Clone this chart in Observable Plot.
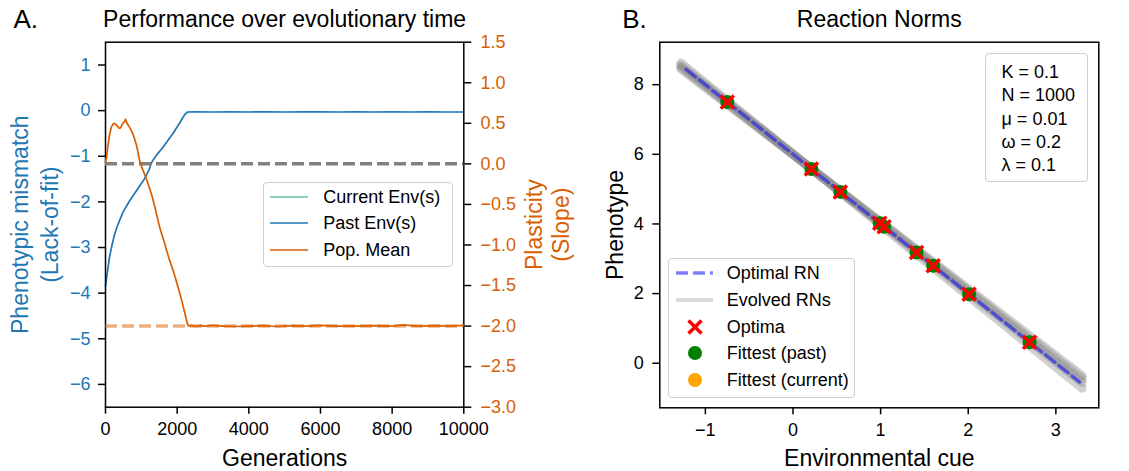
<!DOCTYPE html>
<html><head><meta charset="utf-8">
<script src="https://cdn.jsdelivr.net/npm/d3@7"></script>
<script src="https://cdn.jsdelivr.net/npm/@observablehq/plot@0.6"></script>
<style>
html,body{margin:0;padding:0;background:#fff;}
#root{position:relative;width:1129px;height:471px;overflow:hidden;font-family:"Liberation Sans",Arial,sans-serif;background:#fff;}
#root svg.panel{position:absolute;top:0;}
.box{position:absolute;background:rgba(255,255,255,0.8);border:1.3px solid #cfcfcf;border-radius:4px;box-sizing:border-box;font-size:18px;color:#000;}
.row{position:absolute;left:0;height:26px;line-height:26px;white-space:nowrap;}
.row svg{position:absolute;top:0;}
.row span{position:absolute;}
</style></head><body><div id="root"></div>
<script>
// ---------- Panel A data ----------
const pastGen = [0, 50, 112, 180, 252, 320, 392, 480, 579, 670, 764, 860, 952, 1045, 1139, 1230, 1279, 1330, 1420, 1511, 1600, 1700, 1791, 1884, 1980, 2071, 2160, 2230, 2290, 2500, 3000, 3500, 4000, 4500, 5000, 5500, 6000, 6500, 7000, 7500, 8000, 8500, 9000, 9500, 10000];
const pastMismatch = [-3.85, -3.55, -3.21, -2.95, -2.72, -2.55, -2.41, -2.24, -2.10, -1.98, -1.87, -1.76, -1.65, -1.55, -1.42, -1.27, -1.15, -1.08, -0.98, -0.89, -0.81, -0.70, -0.60, -0.50, -0.38, -0.27, -0.15, -0.07, -0.03, -0.025, -0.03, -0.028, -0.03, -0.027, -0.03, -0.029, -0.026, -0.03, -0.028, -0.03, -0.027, -0.03, -0.029, -0.03, -0.03];
const meanGen = [0, 30, 64, 110, 160, 210, 252, 300, 344, 380, 411, 450, 484, 530, 560, 600, 672, 720, 764, 810, 859, 900, 952, 1020, 1092, 1160, 1231, 1300, 1371, 1440, 1511, 1580, 1651, 1720, 1791, 1884, 1960, 2030, 2100, 2164, 2230, 2276, 2320, 2400, 2500, 2650, 2800, 3000, 3300, 3600, 4000, 4400, 4800, 5200, 5600, 6000, 6500, 7000, 7500, 8000, 8300, 8700, 9200, 9600, 10000];
const meanSlope = [0.02, 0.08, 0.21, 0.35, 0.45, 0.49, 0.50, 0.48, 0.46, 0.44, 0.44, 0.47, 0.50, 0.52, 0.55, 0.50, 0.45, 0.41, 0.37, 0.31, 0.24, 0.16, 0.04, -0.05, -0.13, -0.21, -0.30, -0.40, -0.52, -0.65, -0.78, -0.88, -0.98, -1.09, -1.19, -1.31, -1.42, -1.53, -1.64, -1.75, -1.87, -1.96, -2.00, -1.99, -2.005, -1.995, -2.0, -1.99, -2.0, -2.005, -2.0, -1.995, -2.005, -1.995, -2.0, -1.99, -2.0, -2.0, -1.995, -2.0, -1.985, -2.0, -1.995, -2.0, -1.99];
const genTicks = [0, 2000, 4000, 6000, 8000, 10000];
const mismatchTicks = [-6, -5, -4, -3, -2, -1, 0, 1];
const slopeTicks = [-3.0, -2.5, -2.0, -1.5, -1.0, -0.5, 0.0, 0.5, 1.0, 1.5];
const noPlasticity = [0.0];
const optimalSlope = [-2.0];
const legendA = ["Current Env(s)", "Past Env(s)", "Pop. Mean"];

// ---------- Panel B data ----------
const optimaCue = [-0.75, 0.21, 0.54, 0.99, 1.04, 1.41, 1.60, 2.01, 2.70];
const optimaPheno = [7.50, 5.58, 4.92, 4.02, 3.92, 3.18, 2.80, 1.98, 0.60];
const fittestCue = [-0.75, 0.21, 0.54, 0.99, 1.04, 1.41, 1.60, 2.01, 2.70];
const fittestPheno = [7.50, 5.58, 4.92, 4.02, 3.92, 3.18, 2.80, 1.98, 0.60];
const optimalRNCue = [-1.22, 3.27];
const optimalRNPheno = [8.44, -0.54];
const evolvedRNCue = [-1.28, 3.30];
const evolvedRNStart = [8.45, 8.62, 8.55, 8.50];
const evolvedRNEnd = [-0.36, -0.72, -0.55, -0.45];
const cueTicks = [-1, 0, 1, 2, 3];
const phenoTicks = [0, 2, 4, 6, 8];
const paramLines = ["K = 0.1", "N = 1000", "μ = 0.01", "ω = 0.2", "λ = 0.1"];
const legendB = ["Optimal RN", "Evolved RNs", "Optima", "Fittest (past)", "Fittest (current)"];

// ---------- styling ----------
const FONT = '"Liberation Sans", Arial, Helvetica, sans-serif';
const BLUE = "#1f77b4", ORANGE = "#d95f02", TEAL = "#66c2a5";
const TICK = 18, LAB = 23;
const baseStyle = {fontFamily: FONT, fontSize: TICK + "px", background: "transparent", overflow: "visible"};
const root = document.getElementById("root");
function place(svg, left) { svg.classList.add("panel"); svg.style.left = left + "px"; svg.style.position = "absolute"; svg.style.top = "0px"; root.appendChild(svg); }
const T = (o) => ({text: d => d, lineAnchor: "middle", textAnchor: "middle", fill: "black", ...o});

// ---------- Panel A ----------
const wA = 600, hA = 471;
const mA = {marginLeft: 105, marginRight: wA - 463.3, marginTop: 41.7, marginBottom: hA - 406.7};
const pastRows = pastGen.map((g, i) => ({gen: g, v: pastMismatch[i]}));
const meanRows = meanGen.map((g, i) => ({gen: g, s: meanSlope[i]}));

const baseA = Plot.plot({
  width: wA, height: hA, ...mA, style: baseStyle,
  x: {domain: [0, 10000], axis: null},
  y: {domain: [-6.5, 1.5], axis: null},
  marks: [
    Plot.line(pastRows, {x: "gen", y: "v", stroke: BLUE, strokeWidth: 1.7}),
    Plot.frame({stroke: "black", strokeWidth: 1.5}),
    Plot.axisX({ticks: genTicks, tickSize: 7, tickPadding: 8, tickFormat: d3.format("d"), label: null, stroke: "black", fill: "black", strokeWidth: 1.5}),
    Plot.axisY({ticks: mismatchTicks, tickSize: 7, tickPadding: 8, tickFormat: d3.format("d"), label: null, stroke: "black", fill: BLUE, strokeWidth: 1.5}),
    Plot.text(["Generations"], T({frameAnchor: "bottom", dy: 51.3, fontSize: LAB})),
    Plot.text(["Performance over evolutionary time"], T({frameAnchor: "top", dy: -22.2, fontSize: LAB})),
    Plot.text(["A."], T({frameAnchor: "top-left", dx: -92, dy: -22.7, fontSize: 26, textAnchor: "start"})),
    Plot.text(["Phenotypic mismatch\n(Lack-of-fit)"], T({frameAnchor: "left", dx: -71.8, rotate: -90, fontSize: LAB, fill: BLUE, lineHeight: 1.3}))
  ]
});
place(baseA, 0);

const overA = Plot.plot({
  width: wA, height: hA, ...mA, style: baseStyle,
  x: {domain: [0, 10000], axis: null},
  y: {domain: [-3, 1.5], axis: null},
  marks: [
    Plot.ruleY(noPlasticity, {stroke: "#808080", strokeWidth: 3.5, strokeDasharray: "12,5"}),
    Plot.ruleY(optimalSlope, {stroke: ORANGE, strokeOpacity: 0.5, strokeWidth: 3.5, strokeDasharray: "12,5"}),
    Plot.line(meanRows, {x: "gen", y: "s", stroke: ORANGE, strokeWidth: 1.7}),
    Plot.axisY({anchor: "right", ticks: slopeTicks, tickFormat: d3.format(".1f"), tickSize: 7, tickPadding: 9.7, label: null, stroke: "black", fill: ORANGE, strokeWidth: 1.5}),
    Plot.text(["Plasticity\n(Slope)"], T({frameAnchor: "right", dx: 82.7, rotate: -90, fontSize: LAB, fill: ORANGE, lineHeight: 1.2}))
  ]
});
place(overA, 0);

// ---------- Panel B ----------
const wB = 549, hB = 471;
const evolvedRows = [];
evolvedRNStart.forEach((s, i) => {
  evolvedRows.push({rn: i, x: evolvedRNCue[0], y: s});
  evolvedRows.push({rn: i, x: evolvedRNCue[1], y: evolvedRNEnd[i]});
});
const optRows = optimalRNCue.map((c, i) => ({x: c, y: optimalRNPheno[i]}));
const fitRows = fittestCue.map((c, i) => ({x: c, y: fittestPheno[i]}));
const optimaRows = optimaCue.map((c, i) => ({x: c, y: optimaPheno[i]}));

const panelB = Plot.plot({
  width: wB, height: hB, marginLeft: 79.3, marginRight: 30.7, marginTop: 41.7, marginBottom: 63.7, style: baseStyle,
  x: {domain: [-1.52, 3.49], axis: null},
  y: {domain: [-1.28, 9.22], axis: null},
  marks: [
    Plot.line(evolvedRows, {x: "x", y: "y", z: "rn", stroke: "gray", strokeOpacity: 0.36, strokeWidth: 9}),
    Plot.line(optRows, {x: "x", y: "y", stroke: "blue", strokeOpacity: 0.5, strokeWidth: 3.5, strokeDasharray: "12,5"}),
    Plot.dot(fitRows, {x: "x", y: "y", r: 7, fill: "green"}),
    Plot.dot(optimaRows, {x: "x", y: "y", symbol: "times", r: 6, stroke: "red", strokeWidth: 3.5}),
    Plot.frame({stroke: "black", strokeWidth: 1.5}),
    Plot.axisX({ticks: cueTicks, tickSize: 7, tickPadding: 8, tickFormat: d3.format("d"), label: null, stroke: "black", fill: "black", strokeWidth: 1.5}),
    Plot.axisY({ticks: phenoTicks, tickSize: 7, tickPadding: 9, tickFormat: d3.format("d"), label: null, stroke: "black", fill: "black", strokeWidth: 1.5}),
    Plot.text(["Environmental cue"], T({frameAnchor: "bottom", dy: 51.3, fontSize: LAB})),
    Plot.text(["Reaction Norms"], T({frameAnchor: "top", dy: -22.2, fontSize: LAB})),
    Plot.text(["B."], T({frameAnchor: "top-left", dx: -37.6, dy: -22.7, fontSize: 26, textAnchor: "start"})),
    Plot.text(["Phenotype"], T({frameAnchor: "left", dx: -44.3, rotate: -90, fontSize: LAB}))
  ]
});
place(panelB, 580);

// ---------- legends (HTML) ----------
function box(left, top, w, h) {
  const d = document.createElement("div");
  d.className = "box";
  Object.assign(d.style, {left: left + "px", top: top + "px", width: w + "px", height: h + "px"});
  root.appendChild(d);
  return d;
}
function row(parent, cy, sampleSvg, label, textX) {
  const r = document.createElement("div");
  r.className = "row";
  r.style.top = (cy - 13) + "px";
  r.style.width = "100%";
  r.innerHTML = sampleSvg + `<span style="left:${textX}px">${label}</span>`;
  parent.appendChild(r);
}
const NS = 'xmlns="http://www.w3.org/2000/svg"';
const lineSample = (c, w) => `<svg ${NS} width="60" height="26" style="left:0"><line x1="6" x2="44" y1="13" y2="13" stroke="${c}" stroke-width="${w}"/></svg>`;

const lA = box(263.3, 181.7, 190, 85);
const colsA = [TEAL, BLUE, ORANGE];
legendA.forEach((t, i) => row(lA, 14 + i * 26.7, lineSample(colsA[i], 1.7), t, 59));

const lB = box(668.3, 258.3, 186.7, 140);
const sB = [
  `<svg ${NS} width="60" height="26" style="left:0"><line x1="7" x2="44" y1="13" y2="13" stroke="blue" stroke-opacity="0.5" stroke-width="3.5" stroke-dasharray="12,5"/></svg>`,
  `<svg ${NS} width="60" height="26" style="left:0"><line x1="7" x2="44" y1="13" y2="13" stroke="gray" stroke-opacity="0.3" stroke-width="4"/></svg>`,
  `<svg ${NS} width="60" height="26" style="left:0"><path d="M19.5,6.5L32.5,19.5M19.5,19.5L32.5,6.5" stroke="red" stroke-width="3.5"/></svg>`,
  `<svg ${NS} width="60" height="26" style="left:0"><circle cx="26" cy="13" r="7" fill="green"/></svg>`,
  `<svg ${NS} width="60" height="26" style="left:0"><circle cx="26" cy="13" r="7" fill="orange"/></svg>`
];
legendB.forEach((t, i) => row(lB, 14 + i * 26.7, sB[i], t, 57.5));

const pBox = box(985, 52.7, 102.7, 129.6);
paramLines.forEach((t, i) => {
  const s = document.createElement("div");
  Object.assign(s.style, {position: "absolute", left: "15.5px", top: (7.5 + i * 23.2) + "px", height: "23px", lineHeight: "23px", whiteSpace: "nowrap"});
  s.textContent = t;
  pBox.appendChild(s);
});
</script></body></html>
